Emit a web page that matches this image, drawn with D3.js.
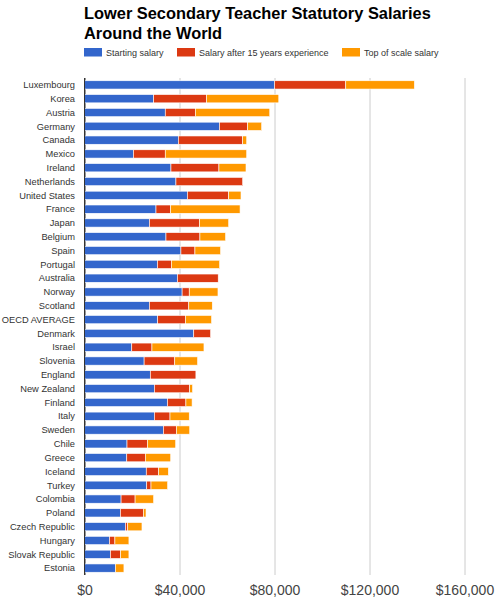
<!DOCTYPE html>
<html>
<head>
<meta charset="utf-8">
<script src="https://cdn.jsdelivr.net/npm/d3@7"></script>
<style>
  body { margin: 0; background: #fff; }
  svg { font-family: Arial, 'Liberation Sans', sans-serif; }
</style>
</head>
<body>
<svg class="salary-chart" width="496" height="600"></svg>
<script>
const countries = ['Luxembourg', 'Korea', 'Austria', 'Germany', 'Canada', 'Mexico', 'Ireland', 'Netherlands',
  'United States', 'France', 'Japan', 'Belgium', 'Spain', 'Portugal', 'Australia', 'Norway', 'Scotland',
  'OECD AVERAGE', 'Denmark', 'Israel', 'Slovenia', 'England', 'New Zealand', 'Finland', 'Italy', 'Sweden',
  'Chile', 'Greece', 'Iceland', 'Turkey', 'Colombia', 'Poland', 'Czech Republic', 'Hungary',
  'Slovak Republic', 'Estonia'];

// salaries in USD (thousands)
const startingSalary = [80, 29.1, 34, 56.8, 39.5, 20.6, 36.4, 38.5,
  43.3, 30.1, 27.3, 34.3, 40.6, 30.7, 39.1, 41.1, 27.3,
  30.8, 46, 19.9, 25.1, 27.7, 29.4, 34.9, 29.4, 33.2,
  17.9, 17.8, 26, 26.2, 15.4, 15.1, 17.2, 10.5,
  10.9, 13];
const after15Salary = [110, 51.4, 46.7, 68.7, 66.6, 34, 56.6, 66.6,
  60.7, 36.3, 48.4, 48.6, 46.5, 36.6, 56.3, 44.1, 43.9,
  42.5, 53.1, 28.4, 38, 46.9, 44.3, 42.7, 36, 38.7,
  26.5, 25.6, 31.2, 28, 21.3, 24.8, 18.2, 12.8,
  15.2, 13];
const topSalary = [138.9, 81.8, 78, 74.6, 68.3, 68.3, 68, 66.6,
  65.9, 65.5, 60.7, 59.4, 57.3, 56.9, 56.3, 56.2, 53.8,
  53.5, 53.1, 50.3, 47.6, 46.9, 45.5, 45.3, 44.1, 44.3,
  38.4, 36.3, 35.3, 35, 29.1, 25.9, 24.2, 18.7,
  18.7, 16.6];

const seriesNames = ['Starting salary', 'Salary after 15 years experience', 'Top of scale salary'];
const seriesColors = ['#3366cc', '#dc3912', '#ff9900'];
const xTickValues = [0, 40000, 80000, 120000, 160000];


const data = countries.map((c, i) => ({
  country: c,
  start: startingSalary[i] * 1000,
  after15: after15Salary[i] * 1000,
  top: topSalary[i] * 1000
}));

const chart = d3.select('.salary-chart');

const xScale = d3
  .scaleLinear()
  .domain([0, 160000])
  .range([84.5, 464.5]);

const yScale = d3
  .scaleBand()
  .domain(countries)
  .range([78, 575])
  .paddingInner(0.4)
  .paddingOuter(0.2);


/*
 ** Title + legend
 */
chart.append('text')
  .attr('x', 84)
  .attr('y', 19)
  .attr('font-size', 16.4)
  .attr('font-weight', 'bold')
  .attr('fill', '#000')
  .text('Lower Secondary Teacher Statutory Salaries');

chart.append('text')
  .attr('x', 84)
  .attr('y', 39)
  .attr('font-size', 16.4)
  .attr('font-weight', 'bold')
  .attr('fill', '#000')
  .text('Around the World');

const legendX = [84, 177, 342];
const legend = chart.append('g')
  .selectAll('g.legend-item')
  .data(seriesNames)
  .enter()
  .append('g')
  .attr('class', 'legend-item')
  .attr('transform', (d, i) => `translate(${legendX[i]}, 48)`);

legend.append('rect')
  .attr('width', 18)
  .attr('height', 8.5)
  .attr('fill', (d, i) => seriesColors[i]);

legend.append('text')
  .attr('x', 22)
  .attr('y', 8)
  .attr('font-size', 9)
  .attr('fill', '#333')
  .text(d => d);


/*
 ** Grid + x-axis
 */
const xAxis = chart.append('g')
  .attr('class', 'x-axis')
  .attr('transform', 'translate(0, 575)')
  .call(d3.axisBottom(xScale)
    .tickValues(xTickValues)
    .tickSize(-497)
    .tickPadding(10)
    .tickFormat(d => '$' + d3.format(',')(d)));

xAxis.select('.domain').remove();
xAxis.selectAll('line')
  .attr('stroke', d => d === 0 ? '#333' : '#ccc');
xAxis.selectAll('text')
  .attr('font-size', 14)
  .attr('fill', '#444');


/*
 ** Bars
 */
const rows = chart.append('g')
  .selectAll('g.bar-group')
  .data(data)
  .enter()
  .append('g')
  .attr('class', 'bar-group')
  .attr('transform', d => `translate(0, ${yScale(d.country)})`);

rows.selectAll('rect.bar')
  .data(d => [
    { k: 0, x0: 0, x1: d.start },
    { k: 1, x0: d.start, x1: d.after15 },
    { k: 2, x0: d.after15, x1: d.top }
  ].filter(s => s.x1 > s.x0))
  .enter()
  .append('rect')
  .attr('class', 'bar')
  .attr('x', d => xScale(d.x0))
  .attr('width', d => xScale(d.x1) - xScale(d.x0))
  .attr('height', yScale.bandwidth())
  .attr('fill', d => seriesColors[d.k])
  .attr('stroke', '#fff')
  .attr('stroke-width', 0.6);


/*
 ** Y-axis labels
 */
chart.append('g')
  .attr('class', 'y-axis')
  .selectAll('text.y-tick')
  .data(countries)
  .enter()
  .append('text')
  .attr('class', 'y-tick')
  .attr('x', 75)
  .attr('y', d => yScale(d) + yScale.bandwidth() / 2)
  .attr('dy', '0.35em')
  .attr('text-anchor', 'end')
  .attr('font-size', 9.3)
  .attr('fill', '#333')
  .text(d => d);

chart.append('line')
  .attr('x1', xScale(0))
  .attr('x2', xScale(0))
  .attr('y1', 78)
  .attr('y2', 575)
  .attr('stroke', '#333');
</script>
</body>
</html>
